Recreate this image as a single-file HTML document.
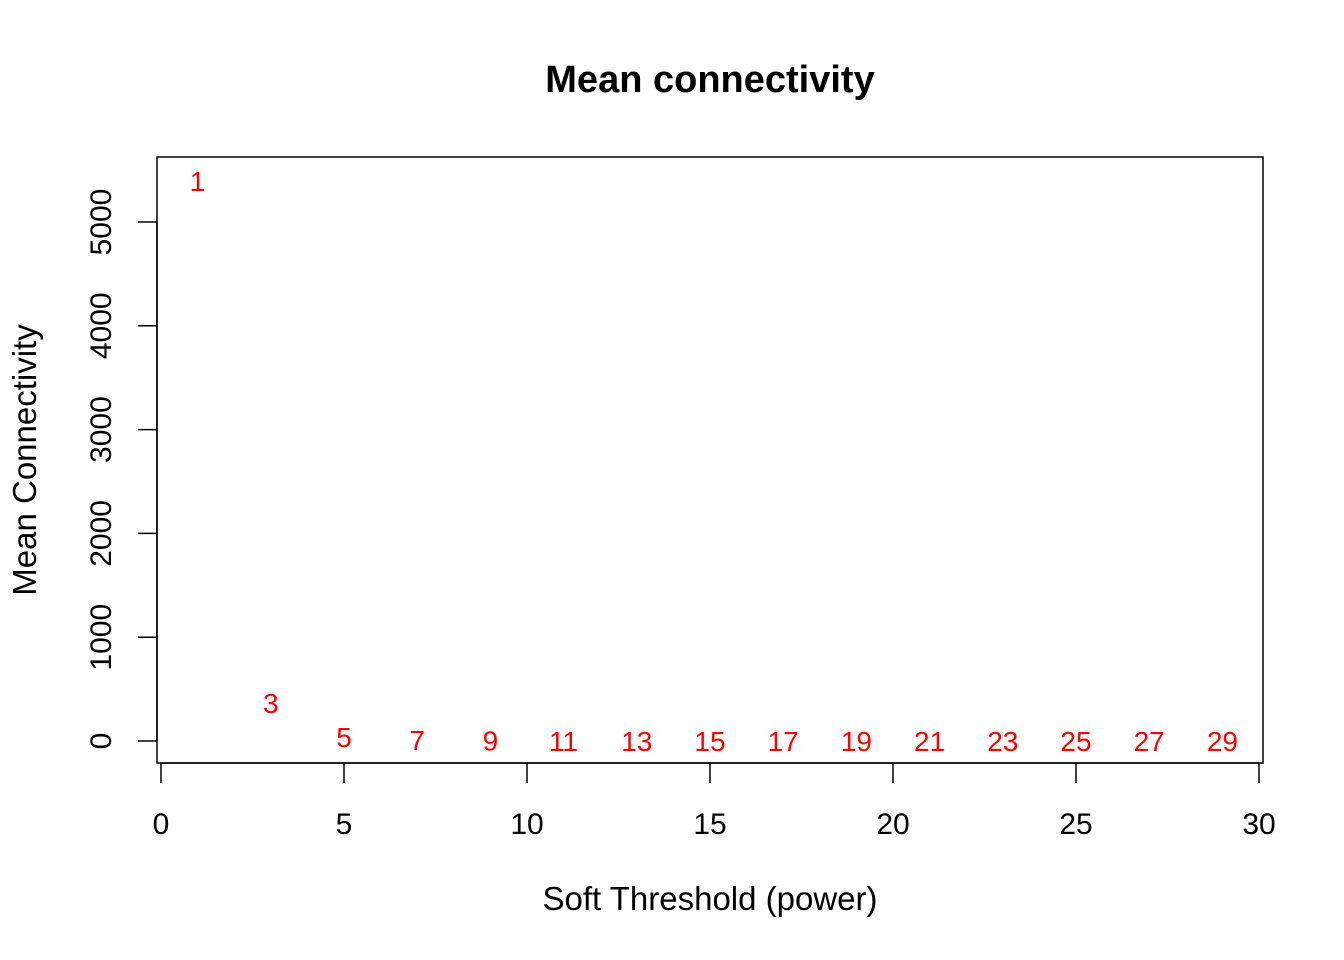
<!DOCTYPE html>
<html><head><meta charset="utf-8"><style>
html,body{margin:0;padding:0;background:#fff;}
svg{display:block;font-family:"Liberation Sans",Arial,sans-serif;}
</style></head><body>
<svg id="chart" width="1344" height="960">
<text x="710" y="92" text-anchor="middle" font-size="38" font-weight="bold">Mean connectivity</text>
<rect x="157" y="157" width="1106" height="606" fill="none" stroke="#000" stroke-width="1.5"/>
<text x="710" y="910" text-anchor="middle" font-size="33">Soft Threshold (power)</text>
<text transform="translate(36,460) rotate(-90)" text-anchor="middle" font-size="33">Mean Connectivity</text>
<g id="xaxis"></g><g id="yaxis"></g><g id="points"></g>
</svg>
<script>
const powers=[1,3,5,7,9,11,13,15,17,19,21,23,25,27,29];
const meanK=[5395,366,39,10,4,2,1,0.5,0.3,0.2,0.1,0.1,0.05,0.03,0.02];
const xTicks=[0,5,10,15,20,25,30];
const yTicks=[0,1000,2000,3000,4000,5000];
const NS="http://www.w3.org/2000/svg";
const sx=v=>161+v*(1259-161)/30;
const sy=v=>741-v*(741-222)/5000;
function mk(tag,attrs,parent){const e=document.createElementNS(NS,tag);for(const k in attrs)e.setAttribute(k,attrs[k]);parent.appendChild(e);return e;}
const xa=document.getElementById('xaxis'),ya=document.getElementById('yaxis'),pts=document.getElementById('points');
const xl=mk('line',{x1:sx(0),x2:sx(30),y1:763,y2:763,stroke:'#000','stroke-width':1.5},xa);


xTicks.forEach(t=>{
 const l=mk('line',{x1:sx(t),x2:sx(t),y1:763,y2:783,stroke:'#000','stroke-width':1.5},xa);
 
 
 const tx=mk('text',{x:sx(t),y:834,'text-anchor':'middle','font-size':30},xa);
 tx.textContent=t;
 
 
});
const yl=mk('line',{x1:157,x2:157,y1:sy(0),y2:sy(5000),stroke:'#000','stroke-width':1.5},ya);


yTicks.forEach(t=>{
 const l=mk('line',{x1:138,x2:157,y1:sy(t),y2:sy(t),stroke:'#000','stroke-width':1.5},ya);
 
 
 const tx=mk('text',{transform:`translate(111,${sy(t)}) rotate(-90)`,'text-anchor':'middle','font-size':30},ya);
 tx.textContent=t;
 
 
});
powers.forEach((p,i)=>{
 const tx=mk('text',{x:sx(p),y:sy(meanK[i])+10,'text-anchor':'middle','font-size':28,fill:'#ff0000'},pts);
 tx.textContent=p;
 
 
});
</script>
</body></html>
